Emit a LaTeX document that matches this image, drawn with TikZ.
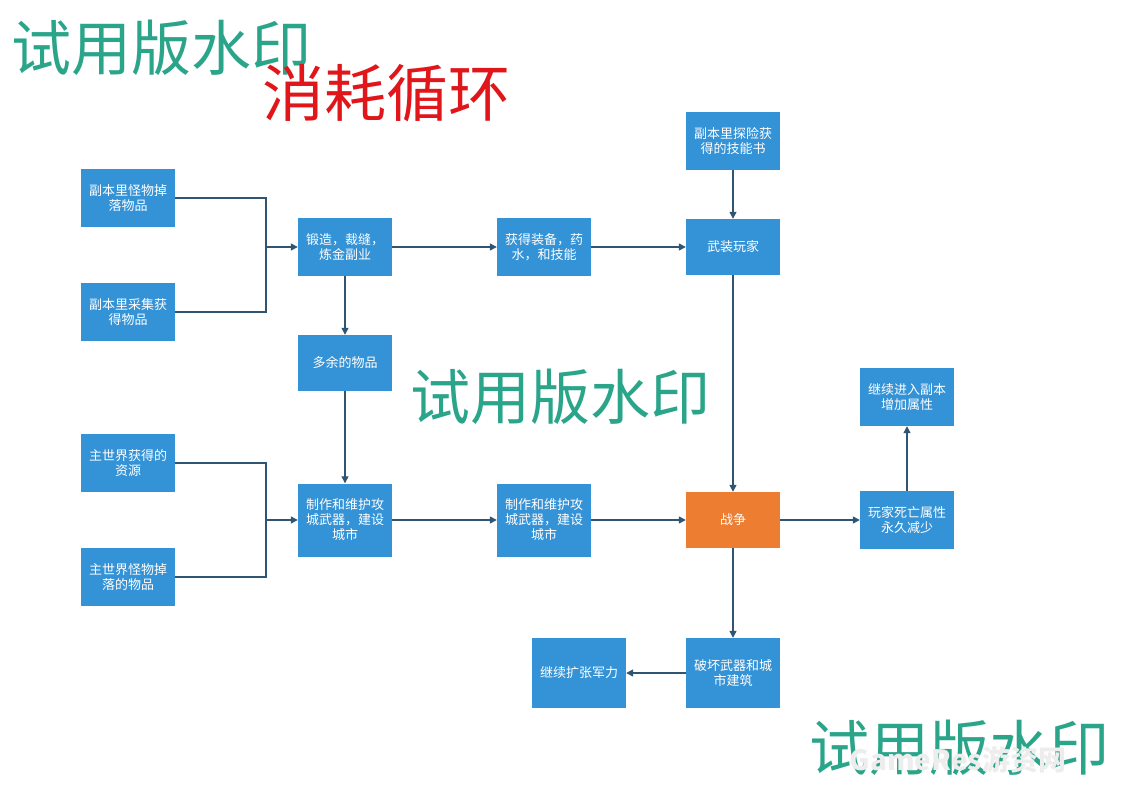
\documentclass[tikz,border=0pt]{standalone}
\usepackage{fontspec}
\newfontfamily\cjk{Noto Sans CJK SC}
\usetikzlibrary{arrows.meta}
\definecolor{boxblue}{RGB}{52,146,214}
\definecolor{boxorange}{RGB}{237,125,49}
\definecolor{linecol}{RGB}{47,85,115}
\definecolor{wmteal}{RGB}{42,165,138}
\definecolor{titlered}{RGB}{224,22,27}
\tikzset{
  box/.style={fill=boxblue, text=white, minimum width=94pt, minimum height=58pt,
    align=center, inner sep=0pt,
    font=\cjk\fontsize{13}{15}\selectfont},
  tallbox/.style={box, minimum height=73pt},
  bigbox/.style={box, minimum height=70pt},
  warbox/.style={box, fill=boxorange},
  conn/.style={draw=linecol, line width=1.3pt},
  arr/.style={conn, -{Triangle[length=7pt,width=7pt]}},
  watermark/.style={text=wmteal, font=\cjk\fontsize{60}{62}\selectfont, inner sep=0pt},
}
\begin{document}
\begin{tikzpicture}[x=1pt,y=-1pt]
\useasboundingbox (0,0) rectangle (1123,794);
% nodes
\node[box] (a1) at (128,198) {副本里怪物掉\\落物品};
\node[box] (a2) at (128,312) {副本里采集获\\得物品};
\node[box] (b) at (345,247) {锻造，裁缝，\\炼金副业};
\node[box] (c) at (544,247) {获得装备，药\\水，和技能};
\node[box] (d) at (733,141) {副本里探险获\\得的技能书};
\node[box, minimum height=56pt] (e) at (733,247) {武装玩家};
\node[box, minimum height=56pt] (f) at (345,363) {多余的物品};
\node[box] (g1) at (128,463) {主世界获得的\\资源};
\node[box] (g2) at (128,577) {主世界怪物掉\\落的物品};
\node[tallbox] (h) at (345,520) {制作和维护攻\\城武器，建设\\城市};
\node[tallbox] (i) at (544,520) {制作和维护攻\\城武器，建设\\城市};
\node[warbox, minimum height=56pt] (j) at (733,520) {战争};
\node[box] (k) at (907,520) {玩家死亡属性\\永久减少};
\node[box] (l) at (907,397) {继续进入副本\\增加属性};
\node[bigbox] (m) at (733,673) {破坏武器和城\\市建筑};
\node[bigbox] (n) at (579,673) {继续扩张军力};
% connectors
\coordinate (j1) at (266,247);
\coordinate (j2) at (266,520);
\draw[conn] (a1.east) -| (j1);
\draw[conn] (a2.east) -| (j1);
\draw[arr] (j1) -- (b.west);
\draw[conn] (g1.east) -| (j2);
\draw[conn] (g2.east) -| (j2);
\draw[arr] (j2) -- (h.west);
\draw[arr] (b) -- (f);
\draw[arr] (f) -- (h);
\draw[arr] (b) -- (c);
\draw[arr] (c) -- (e);
\draw[arr] (d) -- (e);
\draw[arr] (e) -- (j);
\draw[arr] (h) -- (i);
\draw[arr] (i) -- (j);
\draw[arr] (j) -- (k);
\draw[arr] (k) -- (l);
\draw[arr] (j) -- (m);
\draw[arr] (m) -- (n);
% watermarks and title
\node[watermark] (w1) at (161,48) {试用版水印};
\node[text=titlered, font=\cjk\fontsize{62}{64}\selectfont, inner sep=0pt] (title) at (386,93) {消耗循环};
\node[watermark] (w2) at (560,397) {试用版水印};
\node[watermark] (w3) at (959,748) {试用版水印};
\node[text=black!7, font=\cjk\bfseries\fontsize{28}{30}\selectfont, inner sep=0pt] (gr) at (958,760) {GameRes游资网};
\end{tikzpicture}
\end{document}
